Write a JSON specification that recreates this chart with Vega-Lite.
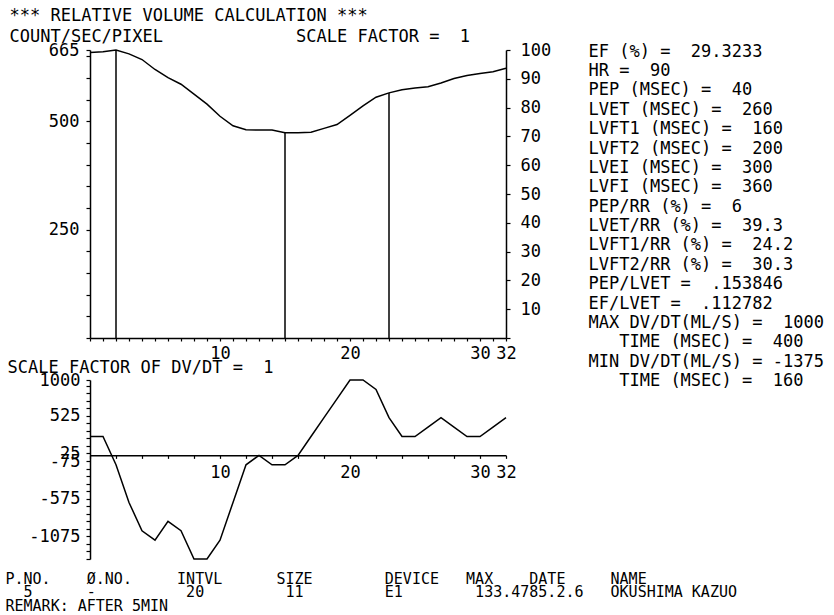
{
  "$schema": "https://vega.github.io/schema/vega-lite/v6.json",
  "background": "white",
  "padding": {"left": 5, "top": 6, "right": 0, "bottom": 0},
  "config": {
    "font": "DejaVu Sans Mono",
    "view": {"stroke": null},
    "axis": {
      "labelFont": "DejaVu Sans Mono", "labelFontSize": 17, "labelColor": "black",
      "titleFont": "DejaVu Sans Mono", "titleFontSize": 17, "titleFontWeight": "normal", "titleColor": "black",
      "domainColor": "black", "domainWidth": 1.5, "tickColor": "black", "tickWidth": 1.2,
      "grid": false, "labelOverlap": false, "labelBound": false, "labelFlush": false,
      "titleAngle": 0, "titleAlign": "left", "titleBaseline": "top", "titleLimit": 2000, "labelLimit": 300
    }
  },
  "datasets": {
    "volume": [
      {"t": 0, "v": 659}, {"t": 1, "v": 661}, {"t": 2, "v": 665}, {"t": 3, "v": 656}, {"t": 4, "v": 643},
      {"t": 5, "v": 620}, {"t": 6, "v": 601}, {"t": 7, "v": 586}, {"t": 8, "v": 563}, {"t": 9, "v": 540},
      {"t": 10, "v": 512}, {"t": 11, "v": 490}, {"t": 12, "v": 481}, {"t": 13, "v": 480}, {"t": 14, "v": 480},
      {"t": 15, "v": 474}, {"t": 16, "v": 474}, {"t": 17, "v": 475}, {"t": 18, "v": 484}, {"t": 19, "v": 493},
      {"t": 20, "v": 514}, {"t": 21, "v": 536}, {"t": 22, "v": 556}, {"t": 23, "v": 566}, {"t": 24, "v": 573},
      {"t": 25, "v": 577}, {"t": 26, "v": 580}, {"t": 27, "v": 589}, {"t": 28, "v": 599}, {"t": 29, "v": 606},
      {"t": 30, "v": 611}, {"t": 31, "v": 615}, {"t": 32, "v": 623}
    ],
    "markers": [{"t": 2, "v": 665}, {"t": 15, "v": 474}, {"t": 23, "v": 566}],
    "pct": [{"p": 0}, {"p": 100}],
    "dvdt": [
      {"t": 0, "v": 250}, {"t": 1, "v": 250}, {"t": 2, "v": -125}, {"t": 3, "v": -625}, {"t": 4, "v": -1000},
      {"t": 5, "v": -1125}, {"t": 6, "v": -875}, {"t": 7, "v": -1000}, {"t": 8, "v": -1375}, {"t": 9, "v": -1375},
      {"t": 10, "v": -1125}, {"t": 11, "v": -625}, {"t": 12, "v": -125}, {"t": 13, "v": 0}, {"t": 14, "v": -125},
      {"t": 15, "v": -125}, {"t": 16, "v": 0}, {"t": 17, "v": 250}, {"t": 18, "v": 500}, {"t": 19, "v": 750},
      {"t": 20, "v": 1000}, {"t": 21, "v": 1000}, {"t": 22, "v": 875}, {"t": 23, "v": 500}, {"t": 24, "v": 250},
      {"t": 25, "v": 250}, {"t": 26, "v": 375}, {"t": 27, "v": 500}, {"t": 28, "v": 375}, {"t": 29, "v": 250},
      {"t": 30, "v": 250}, {"t": 31, "v": 375}, {"t": 32, "v": 500}
    ]
  },
  "bounds": "flush",
  "spacing": 42,
  "vconcat": [
    {
      "width": 416,
      "height": 288,
      "layer": [
        {
          "encoding": {
            "x": {
              "field": "t", "type": "quantitative",
              "scale": {"domain": [0, 32], "nice": false},
              "axis": {
                "title": null,
                "values": [0,1,2,3,4,5,6,7,8,9,10,11,12,13,14,15,16,17,18,19,20,21,22,23,24,25,26,27,28,29,30,31,32],
                "labelExpr": "indexof([10,20,30,32], datum.value) >= 0 ? '' + datum.value : ''",
                "tickSize": 3, "labelPadding": 4
              }
            },
            "y": {
              "field": "v", "type": "quantitative",
              "scale": {"domain": [0, 665], "nice": false},
              "axis": {
                "title": ["*** RELATIVE VOLUME CALCULATION ***", "COUNT/SEC/PIXEL\u00a0\u00a0\u00a0\u00a0\u00a0\u00a0\u00a0\u00a0\u00a0\u00a0\u00a0\u00a0\u00a0SCALE\u00a0FACTOR\u00a0=\u00a0\u00a01"],
                "titleX": -81, "titleY": -43, "titleLineHeight": 21,
                "values": [0,50,100,150,200,250,300,350,400,450,500,550,600,650,665],
                "labelExpr": "indexof([250,500,665], datum.value) >= 0 ? '' + datum.value : ''",
                "tickSize": 4, "labelPadding": 7
              }
            }
          },
          "layer": [
            {"data": {"name": "volume"}, "mark": {"type": "line", "color": "black", "strokeWidth": 1.5}},
            {"data": {"name": "markers"}, "mark": {"type": "rule", "color": "black", "strokeWidth": 1.5}, "encoding": {"y2": {"datum": 0}}}
          ]
        },
        {
          "data": {"name": "pct"},
          "mark": {"type": "rule", "opacity": 0},
          "encoding": {
            "y": {
              "field": "p", "type": "quantitative",
              "scale": {"domain": [0, 100], "nice": false},
              "axis": {
                "orient": "right",
                "title": [
                  "EF\u00a0(%)\u00a0=\u00a0\u00a029.3233",
                  "HR\u00a0=\u00a0\u00a090",
                  "PEP\u00a0(MSEC)\u00a0=\u00a0\u00a040",
                  "LVET\u00a0(MSEC)\u00a0=\u00a0\u00a0260",
                  "LVFT1\u00a0(MSEC)\u00a0=\u00a0\u00a0160",
                  "LVFT2\u00a0(MSEC)\u00a0=\u00a0\u00a0200",
                  "LVEI\u00a0(MSEC)\u00a0=\u00a0\u00a0300",
                  "LVFI\u00a0(MSEC)\u00a0=\u00a0\u00a0360",
                  "PEP/RR\u00a0(%)\u00a0=\u00a0\u00a06",
                  "LVET/RR\u00a0(%)\u00a0=\u00a0\u00a039.3",
                  "LVFT1/RR\u00a0(%)\u00a0=\u00a0\u00a024.2",
                  "LVFT2/RR\u00a0(%)\u00a0=\u00a0\u00a030.3",
                  "PEP/LVET\u00a0=\u00a0\u00a0.153846",
                  "EF/LVET\u00a0=\u00a0\u00a0.112782",
                  "MAX\u00a0DV/DT(ML/S)\u00a0=\u00a0\u00a01000",
                  "\u200b\u00a0\u00a0\u00a0TIME\u00a0(MSEC)\u00a0=\u00a0\u00a0400",
                  "MIN\u00a0DV/DT(ML/S)\u00a0=\u00a0-1375",
                  "\u200b\u00a0\u00a0\u00a0TIME\u00a0(MSEC)\u00a0=\u00a0\u00a0160"
                ],
                "titleX": 82, "titleY": -7, "titleLineHeight": 19.4,
                "values": [0,10,20,30,40,50,60,70,80,90,100],
                "labelExpr": "datum.value == 0 ? '' : '' + datum.value",
                "tickSize": 4, "labelPadding": 10
              }
            }
          }
        }
      ],
      "resolve": {"scale": {"y": "independent"}, "axis": {"y": "independent"}}
    },
    {
      "width": 416,
      "height": 179,
      "data": {"name": "dvdt"},
      "mark": {"type": "line", "color": "black", "strokeWidth": 1.5},
      "encoding": {
        "x": {
          "field": "t", "type": "quantitative",
          "scale": {"domain": [0, 32], "nice": false},
          "axis": {
            "values": [0,2,4,6,8,10,12,14,16,18,20,22,24,26,28,30,32],
            "labelExpr": "indexof([10,20,30,32], datum.value) >= 0 ? '' + datum.value : ''",
            "offset": -103.63, "tickSize": 3, "labelPadding": 6.6,
            "title": [
              "P.NO.\u00a0\u00a0\u00a0\u00a0Ø.NO.\u00a0\u00a0\u00a0\u00a0\u00a0INTVL\u00a0\u00a0\u00a0\u00a0\u00a0\u00a0SIZE\u00a0\u00a0\u00a0\u00a0\u00a0\u00a0\u00a0\u00a0DEVICE\u00a0\u00a0\u00a0MAX\u00a0\u00a0\u00a0\u00a0DATE\u00a0\u00a0\u00a0\u00a0\u00a0NAME",
              "\u200b\u00a0\u00a05\u00a0\u00a0\u00a0\u00a0\u00a0\u00a0-\u00a0\u00a0\u00a0\u00a0\u00a0\u00a0\u00a0\u00a0\u00a0\u00a020\u00a0\u00a0\u00a0\u00a0\u00a0\u00a0\u00a0\u00a0\u00a011\u00a0\u00a0\u00a0\u00a0\u00a0\u00a0\u00a0\u00a0\u00a0E1\u00a0\u00a0\u00a0\u00a0\u00a0\u00a0\u00a0\u00a0133.4785.2.6\u00a0\u00a0\u00a0OKUSHIMA\u00a0KAZUO",
              "REMARK:\u00a0AFTER\u00a05MIN"
            ],
            "titleFontSize": 15,
            "titleX": -85, "titleY": 116, "titleLineHeight": 13.5
          }
        },
        "y": {
          "field": "v", "type": "quantitative",
          "scale": {"domain": [-1375, 1000], "nice": false, "zero": false},
          "axis": {
            "values": [-1375,-1275,-1175,-1075,-975,-875,-775,-675,-575,-475,-375,-275,-175,-75,25,125,225,325,425,525,625,725,825,925,1000],
            "labelExpr": "indexof([1000,525,25,-75,-575,-1075], datum.value) >= 0 ? '' + datum.value : ''",
            "tickSize": 4, "labelPadding": 6,
            "title": "SCALE\u00a0FACTOR\u00a0OF\u00a0DV/DT\u00a0=\u00a0\u00a01",
            "titleX": -83, "titleY": -21
          }
        }
      }
    }
  ]
}
